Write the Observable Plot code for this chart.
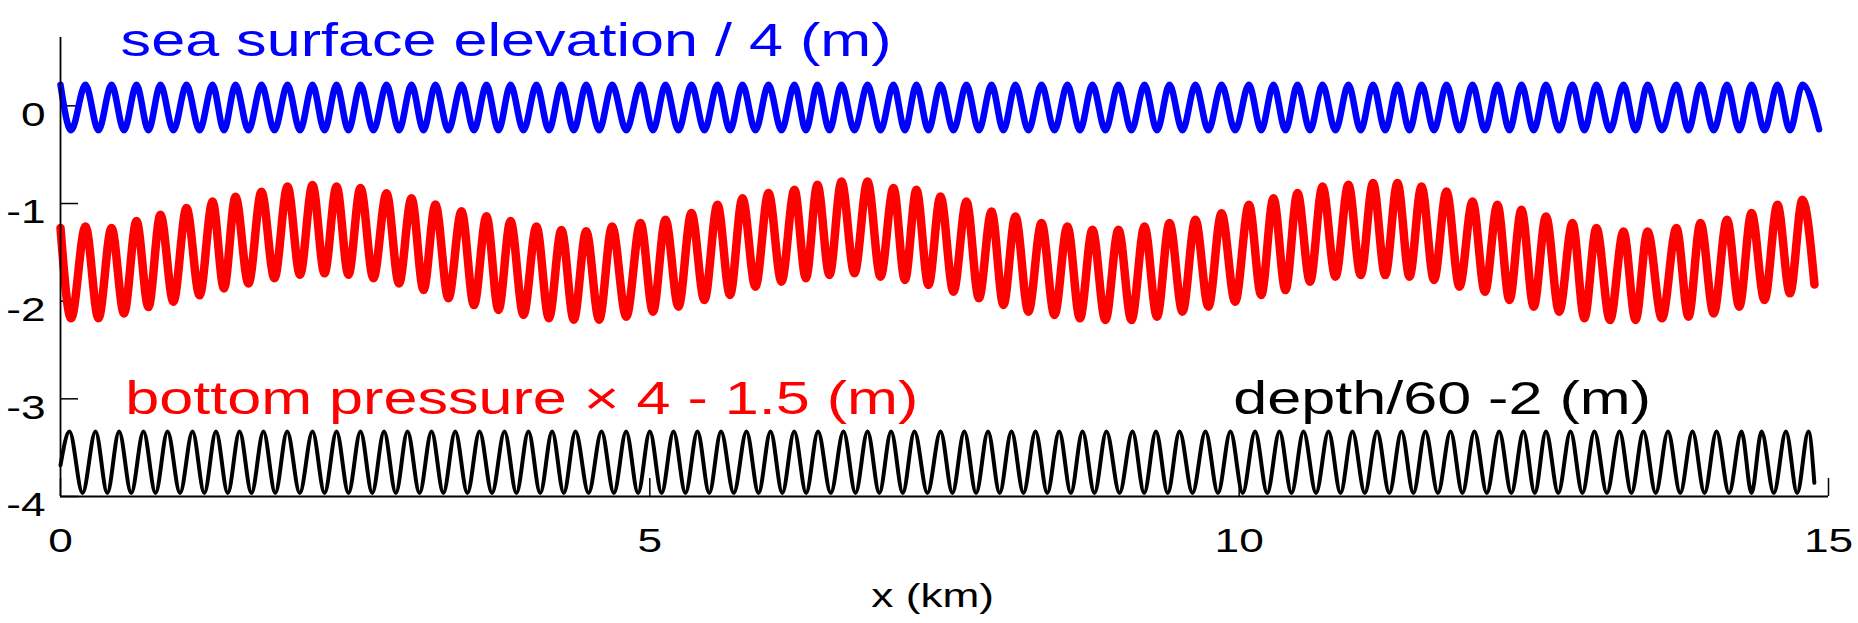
<!DOCTYPE html>
<html>
<head>
<meta charset="utf-8">
<script src="https://cdn.jsdelivr.net/npm/d3@7"></script>
<script src="https://cdn.jsdelivr.net/npm/@observablehq/plot@0.6"></script>
<style>
  html, body { margin: 0; padding: 0; background: #fff; }
</style>
</head>
<body>
<div id="chart"></div>
<script>
// Axis ticks
const xTicks = [0, 5, 10, 15];
const yTicks = [0, -1, -2, -3, -4];

// Crest and trough positions (km) shared by the surface and bottom-pressure waves
const crestX = [0.212, 0.433, 0.645, 0.848, 1.069, 1.290, 1.485, 1.705, 1.926, 2.138, 2.342, 2.545, 2.766, 2.978, 3.181, 3.402, 3.614, 3.818, 4.038, 4.250, 4.460, 4.680, 4.921, 5.133, 5.353, 5.574, 5.786, 6.007, 6.227, 6.422, 6.626, 6.847, 7.067, 7.262, 7.466, 7.686, 7.899, 8.102, 8.323, 8.543, 8.755, 8.976, 9.197, 9.409, 9.629, 9.850, 10.083, 10.291, 10.495, 10.707, 10.927, 11.136, 11.343, 11.547, 11.759, 11.980, 12.191, 12.395, 12.603, 12.828, 13.031, 13.261, 13.465, 13.710, 13.914, 14.139, 14.347, 14.567, 14.779];
const troughX = [0.090, 0.322, 0.539, 0.746, 0.958, 1.180, 1.387, 1.595, 1.815, 2.032, 2.240, 2.443, 2.655, 2.872, 3.080, 3.291, 3.508, 3.716, 3.928, 4.144, 4.355, 4.570, 4.800, 5.027, 5.243, 5.463, 5.680, 5.896, 6.117, 6.324, 6.524, 6.736, 6.957, 7.164, 7.364, 7.576, 7.792, 8.000, 8.212, 8.433, 8.649, 8.865, 9.086, 9.303, 9.519, 9.739, 9.966, 10.187, 10.393, 10.601, 10.817, 11.031, 11.239, 11.445, 11.653, 11.869, 12.085, 12.293, 12.499, 12.715, 12.929, 13.146, 13.363, 13.587, 13.812, 14.026, 14.243, 14.457, 14.673];

// Sea surface elevation / 4 (m): crest and trough levels, first and last samples [x, y]
const surfaceCrest = 0.215;
const surfaceTrough = -0.25;
const surfaceStart = [0, 0.215];
const surfaceEnd = [14.92, -0.24];

// Bottom pressure x 4 - 1.5 (m) at each crest and trough
const pressureCrestY = [-1.235, -1.25, -1.18, -1.115, -1.047, -0.98, -0.93, -0.88, -0.825, -0.81, -0.825, -0.84, -0.895, -0.945, -1.01, -1.08, -1.13, -1.18, -1.235, -1.27, -1.285, -1.235, -1.20, -1.166, -1.098, -1.013, -0.945, -0.893, -0.86, -0.808, -0.774, -0.774, -0.842, -0.86, -0.927, -0.979, -1.081, -1.132, -1.20, -1.235, -1.269, -1.269, -1.235, -1.20, -1.166, -1.10, -1.013, -0.945, -0.893, -0.825, -0.808, -0.791, -0.791, -0.825, -0.876, -0.979, -1.013, -1.064, -1.132, -1.20, -1.251, -1.286, -1.286, -1.251, -1.20, -1.166, -1.098, -1.013, -0.962];
const pressureTroughY = [-2.175, -2.175, -2.125, -2.06, -2.005, -1.94, -1.87, -1.82, -1.765, -1.73, -1.715, -1.73, -1.765, -1.82, -1.885, -1.97, -2.04, -2.09, -2.14, -2.175, -2.19, -2.19, -2.159, -2.107, -2.056, -1.988, -1.937, -1.852, -1.80, -1.766, -1.732, -1.715, -1.749, -1.783, -1.834, -1.903, -1.971, -2.039, -2.107, -2.141, -2.176, -2.193, -2.193, -2.159, -2.107, -2.056, -2.005, -1.937, -1.886, -1.80, -1.749, -1.732, -1.732, -1.749, -1.783, -1.852, -1.903, -1.988, -2.056, -2.107, -2.176, -2.193, -2.193, -2.176, -2.159, -2.125, -2.056, -1.988, -1.92];
const pressureStart = [0, -1.25];
const pressureEnd = [14.881, -1.83];

// Depth / 60 - 2 (m): crest and trough positions (km) and levels
const depthCrestX = [0.076, 0.297, 0.497, 0.704, 0.908, 1.120, 1.319, 1.519, 1.722, 1.923, 2.138, 2.342, 2.545, 2.745, 2.944, 3.148, 3.349, 3.555, 3.767, 3.970, 4.171, 4.369, 4.590, 4.799, 5.000, 5.201, 5.404, 5.604, 5.820, 6.024, 6.225, 6.427, 6.643, 6.847, 7.047, 7.245, 7.466, 7.668, 7.869, 8.068, 8.272, 8.473, 8.671, 8.874, 9.095, 9.294, 9.494, 9.714, 9.926, 10.135, 10.342, 10.546, 10.758, 10.961, 11.170, 11.377, 11.580, 11.793, 11.996, 12.206, 12.412, 12.603, 12.811, 13.014, 13.227, 13.430, 13.638, 13.846, 14.050, 14.262, 14.432, 14.639, 14.830];
const depthTroughX = [0.187, 0.397, 0.600, 0.806, 1.014, 1.220, 1.419, 1.620, 1.822, 2.030, 2.240, 2.443, 2.645, 2.845, 3.046, 3.248, 3.452, 3.661, 3.868, 4.070, 4.270, 4.480, 4.695, 4.900, 5.100, 5.302, 5.504, 5.712, 5.922, 6.124, 6.326, 6.535, 6.745, 6.947, 7.146, 7.355, 7.567, 7.768, 7.968, 8.170, 8.372, 8.572, 8.772, 8.985, 9.194, 9.394, 9.604, 9.820, 10.030, 10.238, 10.444, 10.652, 10.860, 11.066, 11.274, 11.478, 11.686, 11.894, 12.101, 12.309, 12.508, 12.707, 12.912, 13.120, 13.328, 13.534, 13.742, 13.948, 14.156, 14.347, 14.536, 14.734];
const depthCrest = -3.335;
const depthTrough = -3.965;
const depthStart = [0, -3.68];
const depthEnd = [14.88, -3.86];

// Series labels
const labels = [
  {x: 0.51, y: 0.66, text: "sea surface elevation / 4 (m)", color: "#0000ff"},
  {x: 0.55, y: -3.0, text: "bottom pressure \u00d7 4 - 1.5 (m)", color: "#ff0000"},
  {x: 9.95, y: -3.0, text: "depth/60 -2 (m)", color: "#000000"}
];

// Assemble an ordered polyline from start, crests, troughs and end
function series(start, cx, cy, tx, ty, end) {
  const pts = [{x: start[0], y: start[1]}];
  cx.forEach((x, i) => pts.push({x, y: typeof cy === "number" ? cy : cy[i]}));
  tx.forEach((x, i) => pts.push({x, y: typeof ty === "number" ? ty : ty[i]}));
  pts.push({x: end[0], y: end[1]});
  return pts.filter(d => d.y !== undefined).sort((a, b) => a.x - b.x);
}

const surface = series(surfaceStart, crestX, surfaceCrest, troughX, surfaceTrough, surfaceEnd);
const pressure = series(pressureStart, crestX, pressureCrestY, troughX, pressureTroughY, pressureEnd);
const depth = series(depthStart, depthCrestX, depthCrest, depthTroughX, depthTrough, depthEnd);

const chart = Plot.plot({
  width: 1858,
  height: 623,
  marginLeft: 60,
  marginRight: 30,
  marginTop: 37,
  marginBottom: 127,
  style: {fontFamily: "'Liberation Sans', Arial, sans-serif", fontSize: "34px", background: "#fff", color: "#000"},
  x: {domain: [0, 15]},
  y: {domain: [-4, 0.7]},
  marks: [
    Plot.axisX(xTicks, {tickSize: 0, tickPadding: 31, label: null, tickFormat: d => String(d)}),
    Plot.axisY(yTicks, {tickSize: 0, tickPadding: 15, dy: 9, label: null, tickFormat: d => String(d)}),
    // inward tick marks
    Plot.ruleY(yTicks, {x1: 0, x2: 0.153, stroke: "#000", strokeWidth: 1.5}),
    Plot.ruleX(xTicks, {y1: -4, y2: -3.816, stroke: "#000", strokeWidth: 1.5}),
    Plot.line(surface, {x: "x", y: "y", curve: "monotone-x", stroke: "#0000ff", strokeWidth: 6.5, strokeLinejoin: "round"}),
    Plot.line(pressure, {x: "x", y: "y", curve: "monotone-x", stroke: "#ff0000", strokeWidth: 8.5, strokeLinejoin: "round"}),
    Plot.line(depth, {x: "x", y: "y", curve: "monotone-x", stroke: "#000", strokeWidth: 4, strokeLinejoin: "round"}),
    // axis lines
    Plot.ruleX([0], {stroke: "#000", strokeWidth: 1.8}),
    Plot.ruleY([-4], {stroke: "#000", strokeWidth: 1.8}),
    Plot.text(labels, {x: "x", y: "y", text: "text", fill: "color", fontSize: 47, textAnchor: "start"}),
    Plot.text([{x: 7.4, t: "x (km)"}], {x: "x", text: "t", frameAnchor: "bottom", dy: 110, fontSize: 34})
  ]
});

document.getElementById("chart").appendChild(chart);

// Widen every glyph run horizontally, as in the printed figure
d3.select(chart).selectAll("text").each(function() {
  const len = this.getComputedTextLength();
  if (len > 0) {
    this.setAttribute("textLength", (len * 1.3).toFixed(1));
    this.setAttribute("lengthAdjust", "spacingAndGlyphs");
  }
});
</script>
</body>
</html>
